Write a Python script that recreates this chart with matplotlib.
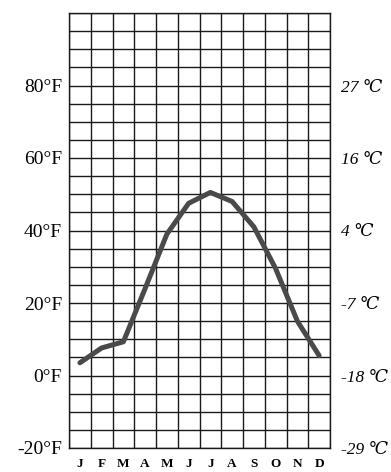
import matplotlib
matplotlib.use("Agg")
import matplotlib.pyplot as plt
import numpy as np

months = ['J', 'F', 'M', 'A', 'M', 'J', 'J', 'A', 'S', 'O', 'N', 'D']
temps_f = [3.5, 7.6, 9.3, 24, 39, 47.5, 50.5, 48, 41, 29.5, 15, 5.5]
f_ticks = [-20, 0, 20, 40, 60, 80]
f_labels = ['-20°F', '0°F', '20°F', '40°F', '60°F', '80°F']
c_labels = ['-29 ℃', '-18 ℃', '-7 ℃', '4 ℃', '16 ℃', '27 ℃']

fig = plt.figure(figsize=(3.91, 4.72), dpi=100)
ax = fig.add_axes([69/391, 1 - 448/472, (330-69)/391, (448-13)/472])

x = np.arange(len(months)) + 0.5
ax.plot(x, temps_f, color='#4a4a4a', lw=3.6, solid_capstyle='round', zorder=3)

ax.set_xlim(0, 12)
ax.set_ylim(-20, 100)

ax.set_xticks(x)
ax.set_xticklabels(months, family=['Liberation Serif', 'DejaVu Serif'],
                   fontsize=9.5, fontweight='bold')
ax.set_xticks(np.arange(0, 13), minor=True)
ax.set_yticks(f_ticks)
ax.set_yticklabels(f_labels, family=['Liberation Serif', 'DejaVu Serif'], fontsize=14)
ax.set_yticks(np.arange(-20, 101, 5), minor=True)

ax.grid(which='minor', color='#1a1a1a', lw=1.0)
ax.yaxis.grid(True, which='major', color='#1a1a1a', lw=1.0)
ax.tick_params(which='both', length=0)
ax.tick_params(axis='x', pad=7)
ax.tick_params(axis='y', pad=5)
for s in ax.spines.values():
    s.set_color('#1a1a1a')
    s.set_linewidth(1.0)

ax2 = ax.twinx()
ax2.set_ylim(ax.get_ylim())
ax2.set_yticks(f_ticks)
ax2.set_yticklabels(c_labels, family=['Liberation Serif', 'DejaVu Serif'],
                    fontsize=12.5, style='italic')
ax2.tick_params(length=0, pad=8)
for s in ax2.spines.values():
    s.set_visible(False)

fig.savefig('out.png', dpi=100)
